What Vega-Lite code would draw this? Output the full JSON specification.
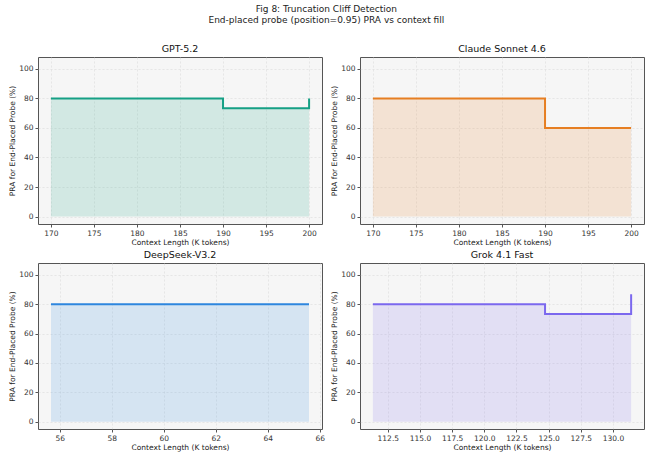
{
  "$schema": "https://vega.github.io/schema/vega-lite/v6.json",
  "background": "white",
  "padding": {"left": 8, "right": 3, "top": 5, "bottom": 2},
  "title": {
    "text": "Fig 8: Truncation Cliff Detection",
    "subtitle": "End-placed probe (position=0.95) PRA vs context fill",
    "anchor": "middle",
    "font": "DejaVu Sans",
    "fontSize": 9,
    "fontWeight": "normal",
    "color": "#222",
    "subtitleFont": "DejaVu Sans",
    "subtitleFontSize": 9,
    "subtitleColor": "#222",
    "subtitlePadding": 2,
    "offset": 18
  },
  "datasets": {
    "d": [
      {"model": "GPT-5.2", "ctx": 170, "pra": 80},
      {"model": "GPT-5.2", "ctx": 190, "pra": 73.3},
      {"model": "GPT-5.2", "ctx": 200, "pra": 80},
      {"model": "Claude Sonnet 4.6", "ctx": 170, "pra": 80},
      {"model": "Claude Sonnet 4.6", "ctx": 190, "pra": 60},
      {"model": "Claude Sonnet 4.6", "ctx": 200, "pra": 60},
      {"model": "DeepSeek-V3.2", "ctx": 55.66, "pra": 80},
      {"model": "DeepSeek-V3.2", "ctx": 65.59, "pra": 80},
      {"model": "Grok 4.1 Fast", "ctx": 111.34, "pra": 80},
      {"model": "Grok 4.1 Fast", "ctx": 124.72, "pra": 73.3},
      {"model": "Grok 4.1 Fast", "ctx": 131.41, "pra": 86.7}
    ]
  },
  "vconcat": [
    {
      "bounds": "flush",
      "spacing": 38,
      "hconcat": [
        {
          "title": "GPT-5.2",
          "width": 284, "height": 167,
          "data": {"name": "d"},
          "transform": [{"filter": "datum.model === 'GPT-5.2'"}],
          "encoding": {
            "x": {"field": "ctx", "type": "quantitative", "title": "Context Length (K tokens)",
                  "scale": {"domain": [168.5, 201.5], "nice": false, "zero": false},
                  "axis": {"values": [170, 175, 180, 185, 190, 195, 200]}},
            "y": {"field": "pra", "type": "quantitative", "title": "PRA for End-Placed Probe (%)",
                  "scale": {"domain": [-5, 108], "nice": false},
                  "axis": {"values": [0, 20, 40, 60, 80, 100]}}
          },
          "layer": [
            {"mark": {"type": "area", "interpolate": "step-after", "color": "#16a085", "opacity": 0.16}, "encoding": {"y2": {"datum": 0}}},
            {"mark": {"type": "line", "interpolate": "step-after", "color": "#16a085", "strokeWidth": 2}}
          ]
        },
        {
          "title": "Claude Sonnet 4.6",
          "width": 284, "height": 167,
          "data": {"name": "d"},
          "transform": [{"filter": "datum.model === 'Claude Sonnet 4.6'"}],
          "encoding": {
            "x": {"field": "ctx", "type": "quantitative", "title": "Context Length (K tokens)",
                  "scale": {"domain": [168.5, 201.5], "nice": false, "zero": false},
                  "axis": {"values": [170, 175, 180, 185, 190, 195, 200]}},
            "y": {"field": "pra", "type": "quantitative", "title": "PRA for End-Placed Probe (%)",
                  "scale": {"domain": [-5, 108], "nice": false},
                  "axis": {"values": [0, 20, 40, 60, 80, 100]}}
          },
          "layer": [
            {"mark": {"type": "area", "interpolate": "step-after", "color": "#e67e22", "opacity": 0.16}, "encoding": {"y2": {"datum": 0}}},
            {"mark": {"type": "line", "interpolate": "step-after", "color": "#e67e22", "strokeWidth": 2}}
          ]
        }
      ]
    },
    {
      "bounds": "flush",
      "spacing": 38,
      "hconcat": [
        {
          "title": "DeepSeek-V3.2",
          "width": 284, "height": 166,
          "data": {"name": "d"},
          "transform": [{"filter": "datum.model === 'DeepSeek-V3.2'"}],
          "encoding": {
            "x": {"field": "ctx", "type": "quantitative", "title": "Context Length (K tokens)",
                  "scale": {"domain": [55.16, 66.09], "nice": false, "zero": false},
                  "axis": {"values": [56, 58, 60, 62, 64, 66]}},
            "y": {"field": "pra", "type": "quantitative", "title": "PRA for End-Placed Probe (%)",
                  "scale": {"domain": [-5, 108], "nice": false},
                  "axis": {"values": [0, 20, 40, 60, 80, 100]}}
          },
          "layer": [
            {"mark": {"type": "area", "interpolate": "step-after", "color": "#2e86de", "opacity": 0.16}, "encoding": {"y2": {"datum": 0}}},
            {"mark": {"type": "line", "interpolate": "step-after", "color": "#2e86de", "strokeWidth": 2}}
          ]
        },
        {
          "title": "Grok 4.1 Fast",
          "width": 284, "height": 166,
          "data": {"name": "d"},
          "transform": [{"filter": "datum.model === 'Grok 4.1 Fast'"}],
          "encoding": {
            "x": {"field": "ctx", "type": "quantitative", "title": "Context Length (K tokens)",
                  "scale": {"domain": [110.34, 132.41], "nice": false, "zero": false},
                  "axis": {"values": [112.5, 115, 117.5, 120, 122.5, 125, 127.5, 130], "format": ".1f"}},
            "y": {"field": "pra", "type": "quantitative", "title": "PRA for End-Placed Probe (%)",
                  "scale": {"domain": [-5, 108], "nice": false},
                  "axis": {"values": [0, 20, 40, 60, 80, 100]}}
          },
          "layer": [
            {"mark": {"type": "area", "interpolate": "step-after", "color": "#7b68ee", "opacity": 0.16}, "encoding": {"y2": {"datum": 0}}},
            {"mark": {"type": "line", "interpolate": "step-after", "color": "#7b68ee", "strokeWidth": 2}}
          ]
        }
      ]
    }
  ],
  "spacing": 2,
  "config": {
    "font": "DejaVu Sans",
    "view": {"fill": "#f6f6f6", "stroke": "#555", "strokeWidth": 1},
    "title": {"fontSize": 9.5, "fontWeight": "normal", "color": "#111", "offset": 4},
    "axis": {
      "domain": false,
      "grid": true,
      "gridColor": "#dcdcdc",
      "gridDash": [2, 2],
      "gridWidth": 0.6,
      "tickColor": "#555",
      "tickSize": 3,
      "labelFontSize": 7.5,
      "labelColor": "#333",
      "titleFontSize": 7.5,
      "titleFontWeight": "normal",
      "titleColor": "#222",
      "labelPadding": 2,
      "titlePadding": 2
    }
  }
}
